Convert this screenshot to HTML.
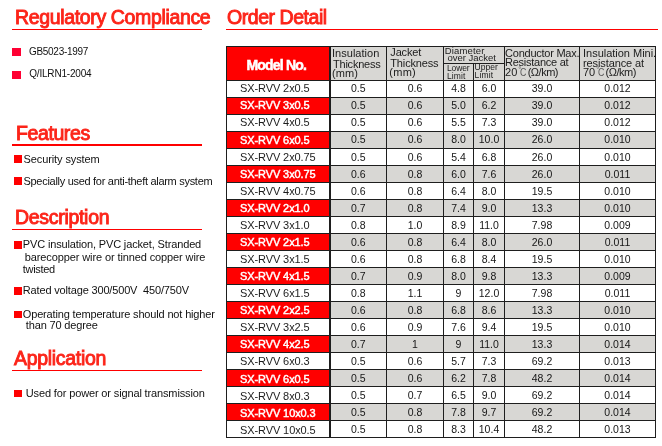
<!DOCTYPE html>
<html><head><meta charset="utf-8">
<style>
html,body{margin:0;padding:0;background:#fff;}
body{width:662px;height:446px;position:relative;overflow:hidden;font-family:"Liberation Sans",sans-serif;color:#111;}
.h{position:absolute;color:#fc2419;font-size:19.5px;line-height:19.5px;white-space:nowrap;-webkit-text-stroke:0.9px #fc2419;}
.ul{position:absolute;height:1.3px;background:#ff0000;}
.t{position:absolute;white-space:pre;color:#111;}
.s{position:absolute;white-space:pre;color:#111;}
.k{position:absolute;white-space:pre;color:#1c1c1c;z-index:2;}
.k.w{color:#fff;font-weight:bold;-webkit-text-stroke:0.5px #fff;}
.b{position:absolute;background:#ff0000;}
.c{position:absolute;background:#ff0033;}
table{position:absolute;left:226px;top:46px;border-collapse:collapse;table-layout:fixed;width:429px;}
td,th{border:1px solid #1e1e1e;padding:0 0 1px 0;height:15px;font-size:10.5px;line-height:15px;text-align:center;font-weight:normal;overflow:hidden;white-space:nowrap;color:#151515;}
tr.g td{background:#d8d7d4;}
td.m{background:#fff;font-size:11px;text-align:left;padding-left:13px;letter-spacing:-0.1px;color:#1c1c1c;border-right-width:2px;}
tr.g td.m{background:#f00;color:#fff;-webkit-text-stroke:0.45px #fff;}
td.o1{padding-top:1px;padding-bottom:0;}
td.o2{padding-top:2px;padding-bottom:0;height:14px;line-height:14px;}
th{background:#d8d7d4;}
th.mh{background:#f00;border-right-width:2px;}
#w{position:absolute;left:0;top:0;width:662px;height:446px;will-change:transform;background:#fff;}
</style></head><body><div id="w">
<div class="h" style="left:15px;top:7.5px;letter-spacing:-0.35px;">Regulatory Compliance</div>
<div class="h" style="left:227px;top:7.5px;letter-spacing:-0.45px;">Order Detail</div>
<div class="h" style="left:16px;top:123.5px;letter-spacing:-0.4px;">Features</div>
<div class="h" style="left:15px;top:207.5px;letter-spacing:-0.3px;">Description</div>
<div class="h" style="left:14px;top:348.5px;letter-spacing:-0.3px;">Application</div>
<div class="ul" style="left:12px;top:28.8px;width:190px;"></div>
<div class="ul" style="left:226px;top:28.8px;width:432px;"></div>
<div class="ul" style="left:12px;top:144.3px;width:190px;"></div>
<div class="ul" style="left:12px;top:229px;width:190px;"></div>
<div class="ul" style="left:12px;top:369.5px;width:190px;"></div>
<div class="c" style="left:12px;top:48px;width:9px;height:8px;"></div>
<div class="c" style="left:12px;top:71px;width:9px;height:8px;"></div>
<div class="b" style="left:14px;top:155.2px;width:7.5px;height:7.5px;"></div>
<div class="b" style="left:14px;top:177.2px;width:7.5px;height:7.5px;"></div>
<div class="b" style="left:14px;top:241px;width:7.5px;height:7.5px;"></div>
<div class="b" style="left:14px;top:287px;width:7.5px;height:7.5px;"></div>
<div class="b" style="left:14px;top:310.5px;width:7.5px;height:7.5px;"></div>
<div class="b" style="left:14px;top:389.5px;width:7.5px;height:7.5px;"></div>
<div class="t" style="left:23.5px;top:154px;font-size:11px;line-height:11px;letter-spacing:-0.1px;">Security system</div>
<div class="t" style="left:23.5px;top:176px;font-size:11px;line-height:11px;letter-spacing:-0.293px;">Specially used for anti-theft alarm system</div>
<div class="t" style="left:22.8px;top:239px;font-size:11px;line-height:11px;letter-spacing:-0.143px;">PVC insulation, PVC jacket, Stranded</div>
<div class="t" style="left:24.8px;top:252px;font-size:11px;line-height:11px;letter-spacing:-0.111px;">barecopper wire or tinned copper wire</div>
<div class="t" style="left:22.8px;top:264px;font-size:11px;line-height:11px;letter-spacing:-0.333px;">twisted</div>
<div class="t" style="left:22.8px;top:285px;font-size:11px;line-height:11px;letter-spacing:-0.161px;">Rated voltage 300/500V&nbsp; 450/750V</div>
<div class="t" style="left:22.8px;top:309px;font-size:11px;line-height:11px;letter-spacing:-0.158px;">Operating temperature should not higher</div>
<div class="t" style="left:25.8px;top:320px;font-size:11px;line-height:11px;letter-spacing:-0.154px;">than 70 degree</div>
<div class="t" style="left:25.8px;top:388px;font-size:11px;line-height:11px;letter-spacing:-0.139px;">Used for power or signal transmission</div>
<div class="t" style="left:29px;top:47px;font-size:10px;line-height:10px;letter-spacing:-0.3px;">GB5023-1997</div>
<div class="t" style="left:29.2px;top:69.4px;font-size:10px;line-height:10px;letter-spacing:-0.182px;">Q/ILRN1-2004</div>
<table>
<colgroup><col style="width:103px"><col style="width:57px"><col style="width:57px"><col style="width:30px"><col style="width:31px"><col style="width:75px"><col style="width:76px"></colgroup>
<tr><th class="mh" rowspan="2"></th><th rowspan="2"></th><th rowspan="2"></th><th colspan="2" style="height:15px;"></th><th rowspan="2"></th><th rowspan="2"></th></tr>
<tr><th style="height:15px;"></th><th style="height:15px;"></th></tr>
<tr><td class="m">SX-RVV 2x0.5</td><td>0.5</td><td>0.6</td><td>4.8</td><td>6.0</td><td>39.0</td><td>0.012</td></tr>
<tr class="g"><td class="m">SX-RVV 3x0.5</td><td>0.5</td><td>0.6</td><td>5.0</td><td>6.2</td><td>39.0</td><td>0.012</td></tr>
<tr><td class="m">SX-RVV 4x0.5</td><td>0.5</td><td>0.6</td><td>5.5</td><td>7.3</td><td>39.0</td><td>0.012</td></tr>
<tr class="g"><td class="m o1">SX-RVV 6x0.5</td><td>0.5</td><td>0.6</td><td>8.0</td><td>10.0</td><td>26.0</td><td>0.010</td></tr>
<tr><td class="m o1">SX-RVV 2x0.75</td><td class="o1">0.5</td><td class="o1">0.6</td><td class="o1">5.4</td><td class="o1">6.8</td><td class="o1">26.0</td><td class="o1">0.010</td></tr>
<tr class="g"><td class="m o1">SX-RVV 3x0.75</td><td class="o1">0.6</td><td class="o1">0.8</td><td class="o1">6.0</td><td class="o1">7.6</td><td class="o1">26.0</td><td class="o1">0.011</td></tr>
<tr><td class="m o1">SX-RVV 4x0.75</td><td class="o1">0.6</td><td class="o1">0.8</td><td class="o1">6.4</td><td class="o1">8.0</td><td class="o1">19.5</td><td class="o1">0.010</td></tr>
<tr class="g"><td class="m o1">SX-RVV 2x1.0</td><td class="o1">0.7</td><td class="o1">0.8</td><td class="o1">7.4</td><td class="o1">9.0</td><td class="o1">13.3</td><td class="o1">0.010</td></tr>
<tr><td class="m o1">SX-RVV 3x1.0</td><td class="o1">0.8</td><td class="o1">1.0</td><td class="o1">8.9</td><td class="o1">11.0</td><td class="o1">7.98</td><td class="o1">0.009</td></tr>
<tr class="g"><td class="m o1">SX-RVV 2x1.5</td><td class="o1">0.6</td><td class="o1">0.8</td><td class="o1">6.4</td><td class="o1">8.0</td><td class="o1">26.0</td><td class="o1">0.011</td></tr>
<tr><td class="m o1">SX-RVV 3x1.5</td><td class="o1">0.6</td><td class="o1">0.8</td><td class="o1">6.8</td><td class="o1">8.4</td><td class="o1">19.5</td><td class="o1">0.010</td></tr>
<tr class="g"><td class="m o1">SX-RVV 4x1.5</td><td class="o1">0.7</td><td class="o1">0.9</td><td class="o1">8.0</td><td class="o1">9.8</td><td class="o1">13.3</td><td class="o1">0.009</td></tr>
<tr><td class="m o1">SX-RVV 6x1.5</td><td class="o1">0.8</td><td class="o1">1.1</td><td class="o1">9</td><td class="o1">12.0</td><td class="o1">7.98</td><td class="o1">0.011</td></tr>
<tr class="g"><td class="m o1">SX-RVV 2x2.5</td><td class="o1">0.6</td><td class="o1">0.8</td><td class="o1">6.8</td><td class="o1">8.6</td><td class="o1">13.3</td><td class="o1">0.010</td></tr>
<tr><td class="m o1">SX-RVV 3x2.5</td><td class="o1">0.6</td><td class="o1">0.9</td><td class="o1">7.6</td><td class="o1">9.4</td><td class="o1">19.5</td><td class="o1">0.010</td></tr>
<tr class="g"><td class="m o1">SX-RVV 4x2.5</td><td class="o1">0.7</td><td class="o1">1</td><td class="o1">9</td><td class="o1">11.0</td><td class="o1">13.3</td><td class="o1">0.014</td></tr>
<tr><td class="m o1">SX-RVV 6x0.3</td><td class="o1">0.5</td><td class="o1">0.6</td><td class="o1">5.7</td><td class="o1">7.3</td><td class="o1">69.2</td><td class="o1">0.013</td></tr>
<tr class="g"><td class="m o2">SX-RVV 6x0.5</td><td class="o1">0.5</td><td class="o1">0.6</td><td class="o1">6.2</td><td class="o1">7.8</td><td class="o1">48.2</td><td class="o1">0.014</td></tr>
<tr><td class="m o2">SX-RVV 8x0.3</td><td class="o1">0.5</td><td class="o1">0.7</td><td class="o1">6.5</td><td class="o1">9.0</td><td class="o1">69.2</td><td class="o1">0.014</td></tr>
<tr class="g"><td class="m o2">SX-RVV 10x0.3</td><td class="o1">0.5</td><td class="o1">0.8</td><td class="o1">7.8</td><td class="o1">9.7</td><td class="o1">69.2</td><td class="o1">0.014</td></tr>
<tr><td class="m o2">SX-RVV 10x0.5</td><td class="o1">0.5</td><td class="o1">0.8</td><td class="o1">8.3</td><td class="o1">10.4</td><td class="o1">48.2</td><td class="o1">0.013</td></tr>
</table>
<div class="k w" style="left:246.5px;top:57.5px;font-size:14px;line-height:14px;letter-spacing:-0.8px;">Model No.</div>
<div class="k" style="left:332px;top:48px;font-size:11px;line-height:11px;letter-spacing:0.022px;">Insulation</div>
<div class="k" style="left:333px;top:58.7px;font-size:11px;line-height:11px;letter-spacing:-0.225px;">Thickness</div>
<div class="k" style="left:332px;top:67.8px;font-size:11px;line-height:11px;letter-spacing:0.067px;">(mm)</div>
<div class="k" style="left:390.3px;top:46.8px;font-size:11px;line-height:11px;letter-spacing:-0.16px;">Jacket</div>
<div class="k" style="left:390.3px;top:57.8px;font-size:11px;line-height:11px;letter-spacing:-0.15px;">Thickness</div>
<div class="k" style="left:389.3px;top:67.1px;font-size:11px;line-height:11px;letter-spacing:0.267px;">(mm)</div>
<div class="k" style="left:444.8px;top:45.6px;font-size:9.5px;line-height:9.5px;letter-spacing:0.143px;">Diameter</div>
<div class="k" style="left:447.6px;top:52.8px;font-size:9.5px;line-height:9.5px;letter-spacing:-0.04px;">over Jacket</div>
<div class="k" style="left:446.9px;top:63.8px;font-size:8.5px;line-height:8.5px;letter-spacing:-0.1px;">Lower</div>
<div class="k" style="left:446.9px;top:71.5px;font-size:8.5px;line-height:8.5px;letter-spacing:0.1px;">Limit</div>
<div class="k" style="left:474.6px;top:62.8px;font-size:8.5px;line-height:8.5px;letter-spacing:0px;">Upper</div>
<div class="k" style="left:474.6px;top:70.7px;font-size:8.5px;line-height:8.5px;letter-spacing:0.15px;">Limit</div>
<div class="k" style="left:505.1px;top:47.7px;font-size:11px;line-height:11px;letter-spacing:-0.246px;">Conductor Max.</div>
<div class="k" style="left:505.1px;top:56.7px;font-size:11px;line-height:11px;letter-spacing:-0.267px;">Resistance at</div>
<div class="k" style="left:583px;top:47.7px;font-size:11px;line-height:11px;letter-spacing:-0.013px;">Insulation Mini.</div>
<div class="k" style="left:583px;top:58.2px;font-size:11px;line-height:11px;letter-spacing:-0.1px;">resistance at</div>
<div class="k" style="left:505.1px;top:66.5px;font-size:11px;line-height:11px;">20</div><div class="k" style="left:518.3px;top:66.3px;font-size:8px;line-height:8px;color:#555;">°</div><div class="k" style="left:519.7px;top:66.5px;font-size:11px;line-height:11px;color:#5a5a5a;transform:scaleX(0.8);transform-origin:0 0;">C</div><div class="k" style="left:527.7px;top:66.5px;font-size:11px;line-height:11px;letter-spacing:-0.5px;">(Ω/km)</div>
<div class="k" style="left:583px;top:66.5px;font-size:11px;line-height:11px;">70</div><div class="k" style="left:596.2px;top:66.3px;font-size:8px;line-height:8px;color:#555;">°</div><div class="k" style="left:597.6px;top:66.5px;font-size:11px;line-height:11px;color:#5a5a5a;transform:scaleX(0.8);transform-origin:0 0;">C</div><div class="k" style="left:605.6px;top:66.5px;font-size:11px;line-height:11px;letter-spacing:-0.5px;">(Ω/km)</div>
</div></body></html>
